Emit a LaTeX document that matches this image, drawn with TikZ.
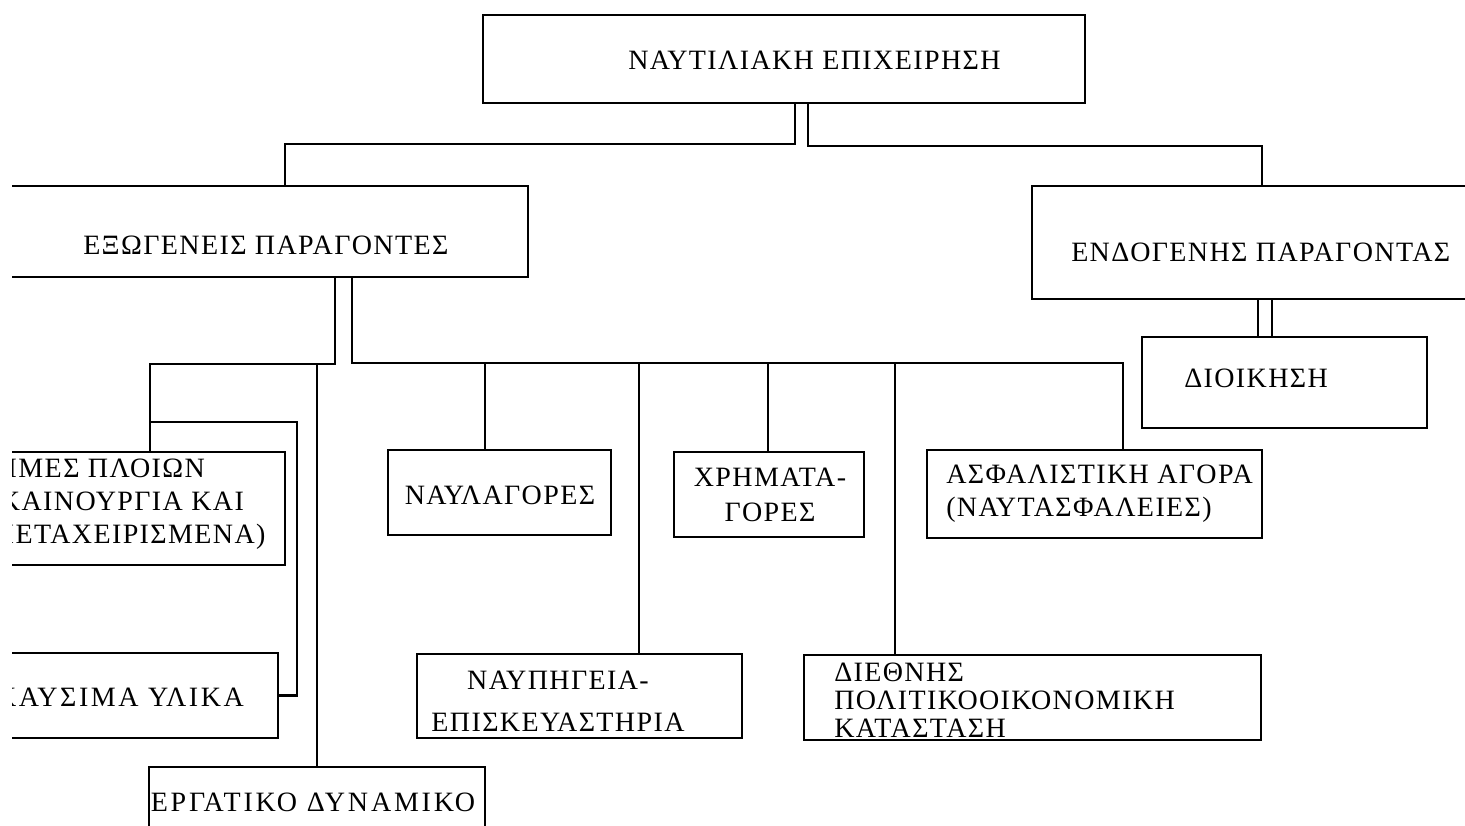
\documentclass[tikz,border=0pt]{standalone}
\usepackage{fontspec}
\setmainfont{Liberation Serif}[LetterSpace=5]
\usepackage{tikz}

\begin{document}
\begin{tikzpicture}[x=1pt, y=-1pt, line width=2.5pt,
        box/.style={draw, inner sep=0pt},
        txt/.style={inner sep=0pt, font=\fontsize{28}{33}\selectfont}]
        \useasboundingbox (0,0) rectangle (1465,826);
        \clip (12,0) rectangle (1465,826);

        \node[box, minimum width=602, minimum height=88] (nav) at (784,59) {};
        \node[txt, anchor=west] (navT) at (627,60) {ΝΑΥΤΙΛΙΑΚΗ ΕΠΙΧΕΙΡΗΣΗ};
        \node[box, minimum width=548, minimum height=91] (exo) at (254,231.5) {};
        \node[txt, anchor=west] (exoT) at (82,245) {ΕΞΩΓΕΝΕΙΣ ΠΑΡΑΓΟΝΤΕΣ};
        \node[box, minimum width=460, minimum height=113] (endo) at (1262,242.5) {};
        \node[txt, anchor=west] (endoT) at (1070,252) {ΕΝΔΟΓΕΝΗΣ ΠΑΡΑΓΟΝΤΑΣ};
        \node[box, minimum width=285, minimum height=91] (dioik) at (1284.5,382.5) {};
        \node[txt, anchor=west] (dioikT) at (1183,378) {ΔΙΟΙΚΗΣΗ};

        \node[box, minimum width=305, minimum height=113] (tim) at (132.5,508.5) {};
        \node[txt, anchor=west, align=left] (timT) at (-12,504) {ΤΙΜΕΣ ΠΛΟΙΩΝ\\(ΚΑΙΝΟΥΡΓΙΑ ΚΑΙ\\ΜΕΤΑΧΕΙΡΙΣΜΕΝΑ)};
        \node[box, minimum width=298, minimum height=85] (kaus) at (129,695.5) {};
        \node[txt, anchor=west, font=\fontsize{28}{33}\selectfont\addfontfeature{LetterSpace=9}] (kausT) at (-5,697) {ΚΑΥΣΙΜΑ ΥΛΙΚΑ};
        \node[box, minimum width=336, minimum height=93] (erg) at (317,813.5) {};
        \node[txt, font=\fontsize{28}{33}\selectfont\addfontfeature{LetterSpace=10}] (ergT) at (313,802) {ΕΡΓΑΤΙΚΟ ΔΥΝΑΜΙΚΟ};
        \node[box, minimum width=223, minimum height=85] (naul) at (499.5,492.5) {};
        \node[txt] (naulT) at (500,495) {ΝΑΥΛΑΓΟΡΕΣ};
        \node[box, minimum width=190, minimum height=85] (xrim) at (769,494.5) {};
        \node[txt, align=center, font=\fontsize{28}{35}\selectfont] (xrimT) at (770,495) {ΧΡΗΜΑΤΑ-\\ΓΟΡΕΣ};
        \node[box, minimum width=335, minimum height=88] (asf) at (1094.5,494) {};
        \node[txt, anchor=west, align=left] (asfT) at (945,494) {ΑΣΦΑΛΙΣΤΙΚΗ ΑΓΟΡΑ\\(ΝΑΥΤΑΣΦΑΛΕΙΕΣ)};
        \node[box, minimum width=325, minimum height=84] (nafp) at (579.5,696) {};
        \node[txt, align=center, font=\fontsize{28}{42}\selectfont] (nafpT) at (558,701) {ΝΑΥΠΗΓΕΙΑ-\\ΕΠΙΣΚΕΥΑΣΤΗΡΙΑ};
        \node[box, minimum width=457, minimum height=85] (diet) at (1032.5,697.5) {};
        \node[txt, anchor=west, align=left, font=\fontsize{28}{28}\selectfont] (dietT) at (833,700) {ΔΙΕΘΝΗΣ\\ΠΟΛΙΤΙΚΟΟΙΚΟΝΟΜΙΚΗ\\ΚΑΤΑΣΤΑΣΗ};

        \coordinate (bus) at (352,363);
        \draw ([xshift=11]nav.south) -- ++(0,40) -| ([xshift=31]exo.north);
        \draw ([xshift=24]nav.south) -- ++(0,42) -| (endo.north);
        \draw ([xshift=81]exo.south) -- ++(0,86) -| ([xshift=17.5]tim.north);
        \draw ([xshift=98]exo.south) -- (bus) -| ([xshift=28.5]asf.north);
        \draw ([xshift=17.5,yshift=29]tim.north) -- ++(147,0) |- (kaus.east);
        \draw (erg.north) |- ([xshift=81,yshift=-86]exo.south);
        \foreach \b/\s in {naul/-14.5, nafp/59.5, xrim/-1, diet/-137.5}
            \draw ([xshift=\s]\b.north) |- (bus);
        \draw ([xshift=-4]endo.south) -- ([xshift=-26.5]dioik.north);
        \draw ([xshift=10]endo.south) -- ([xshift=-12.5]dioik.north);
    \end{tikzpicture}
\end{document}
